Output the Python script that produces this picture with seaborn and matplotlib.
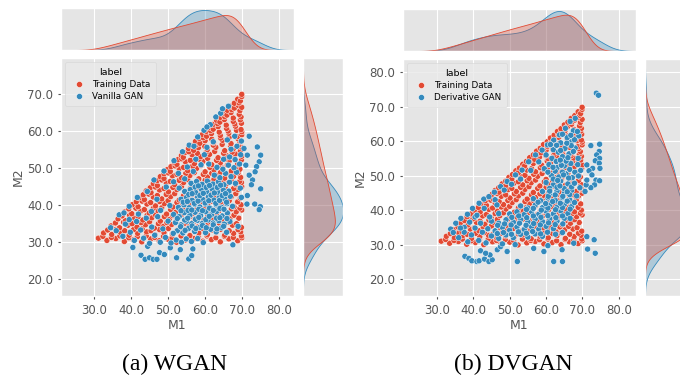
import matplotlib
matplotlib.use("Agg")
import matplotlib.pyplot as plt
import seaborn as sns
import pandas as pd
from matplotlib.ticker import FormatStrFormatter, MultipleLocator

plt.style.use("ggplot")
plt.rcParams["font.family"] = ["DejaVu Sans"]

# ---------------- data (M1, M2) ----------------
training_data = [
    (31.2,31.0),(33.5,30.4),(35.9,30.9),(38.2,30.1),(40.6,30.6),(42.9,30.0),(45.3,30.8),(47.6,30.3),(50.0,30.7),
    (52.3,29.9),(54.7,30.5),(57.0,30.9),(59.4,30.2),(61.7,30.6),(64.1,30.0),(66.4,30.8),(68.8,30.3),(69.9,31.1),
    (32.4,31.5),(34.7,31.2),(37.0,31.6),(39.4,31.1),(41.7,31.4),(44.1,31.6),(46.4,31.2),(48.8,31.5),(51.1,31.1),
    (53.5,31.6),(55.8,31.2),(58.2,31.4),(60.5,31.6),(62.9,31.1),(65.2,31.5),(67.6,31.2),(69.8,31.6),
    (32.6,32.4),(34.8,32.0),(37.1,32.6),(39.5,31.8),(41.8,32.3),(44.2,32.7),(46.5,31.9),(48.9,32.5),(51.2,32.1),
    (53.6,32.8),(55.9,31.7),(58.3,32.4),(60.6,32.0),(63.0,32.6),(65.3,31.8),(67.7,32.3),(69.6,32.7),
    (33.7,33.2),(36.0,33.4),(38.3,33.0),(40.7,33.3),(43.0,33.5),(45.4,33.0),(47.7,33.3),(50.1,33.6),(52.4,33.1),
    (54.8,33.4),(57.1,33.0),(59.5,33.5),(61.8,33.2),(64.2,33.4),(66.5,33.0),(68.9,33.3),
    (34.6,34.3),(36.9,33.8),(39.2,34.5),(41.6,34.0),(43.9,34.6),(46.3,33.7),(48.6,34.2),(51.0,34.7),(53.3,33.9),
    (55.7,34.4),(58.0,34.0),(60.4,34.6),(62.7,33.8),(65.1,34.3),(67.4,34.5),(69.8,33.9),
    (35.8,35.1),(38.0,35.3),(40.3,34.9),(42.7,35.2),(45.0,35.4),(47.4,34.9),(49.7,35.2),(52.1,35.5),(54.4,35.0),
    (56.8,35.3),(59.1,34.9),(61.5,35.4),(63.8,35.1),(66.2,35.3),(68.5,34.9),
    (36.5,36.2),(38.5,35.7),(40.9,36.4),(43.2,35.9),(45.6,36.5),(47.9,35.6),(50.3,36.1),(52.6,36.6),(55.0,35.8),
    (57.3,36.3),(59.7,35.9),(62.0,36.5),(64.4,35.7),(66.7,36.2),(69.1,36.4),
    (37.6,37.0),(39.6,37.2),(41.9,36.8),(44.3,37.1),(46.6,37.3),(49.0,36.8),(51.3,37.1),(53.7,37.4),(56.0,36.9),
    (58.4,37.2),(60.7,36.8),(63.1,37.3),(65.4,37.0),(67.8,37.2),
    (38.3,38.1),(40.2,37.6),(42.6,38.3),(44.9,37.8),(47.3,38.4),(49.6,37.5),(52.0,38.0),(54.3,38.5),(56.7,37.7),
    (59.0,38.2),(61.4,37.8),(63.7,38.4),(66.1,37.6),(68.4,38.1),(69.9,38.6),
    (39.4,38.9),(41.3,39.1),(43.6,38.7),(46.0,39.0),(48.3,39.2),(50.7,38.7),(53.0,39.0),(55.4,39.3),(57.7,38.8),
    (60.1,39.1),(62.4,38.7),(64.8,39.2),(67.1,38.9),(69.4,39.1),
    (40.3,40.0),(41.9,39.5),(44.3,40.2),(46.6,39.7),(49.0,40.3),(51.3,39.4),(53.7,39.9),(56.0,40.4),(58.4,39.6),
    (60.7,40.1),(63.1,39.7),(65.4,40.3),(67.8,39.5),(69.7,40.0),
    (41.4,40.8),(43.0,41.0),(45.3,40.6),(47.7,40.9),(50.0,41.1),(52.4,40.6),(54.7,40.9),(57.1,41.2),(59.4,40.7),
    (61.8,41.0),(64.1,40.6),(66.5,41.1),(68.8,40.8),
    (42.2,41.9),(43.6,41.4),(46.0,42.1),(48.3,41.6),(50.7,42.2),(53.0,41.3),(55.4,41.8),(57.7,42.3),(60.1,41.5),
    (62.4,42.0),(64.8,41.6),(67.1,42.2),(69.5,41.8),
    (43.3,42.7),(44.8,42.9),(47.1,42.5),(49.5,42.8),(51.8,43.0),(54.2,42.5),(56.5,42.8),(58.9,43.1),(61.2,42.6),
    (63.6,42.9),(65.9,42.5),(68.3,43.0),
    (44.1,43.8),(45.4,43.3),(47.7,44.0),(50.1,43.5),(52.4,44.1),(54.8,43.2),(57.1,43.7),(59.5,44.2),(61.8,43.4),
    (64.2,43.9),(66.5,43.5),(68.9,44.1),
    (45.2,44.6),(46.6,44.8),(48.9,44.4),(51.3,44.7),(53.6,44.9),(56.0,44.4),(58.3,44.7),(60.7,45.0),(63.0,44.5),
    (65.4,44.8),(67.7,44.4),(69.9,44.9),
    (46.0,45.7),(47.1,45.2),(49.5,45.9),(51.8,45.4),(54.2,46.0),(56.5,45.1),(58.9,45.6),(61.2,46.1),(63.6,45.3),
    (65.9,45.8),(68.3,45.4),(69.8,46.0),
    (47.0,46.5),(48.3,46.7),(50.6,46.3),(53.0,46.6),(55.3,46.8),(57.7,46.3),(60.0,46.6),(62.4,46.9),(64.7,46.4),
    (67.1,46.7),(69.3,46.3),
    (47.9,47.6),(48.9,47.1),(51.2,47.8),(53.6,47.3),(55.9,47.9),(58.3,47.0),(60.6,47.5),(63.0,48.0),(65.3,47.2),
    (67.7,47.7),(69.6,47.4),
    (48.9,48.4),(50.1,48.6),(52.4,48.2),(54.8,48.5),(57.1,48.7),(59.5,48.2),(61.8,48.5),(64.2,48.8),(66.5,48.3),(68.9,48.6),
    (49.8,49.5),(50.6,49.0),(53.0,49.7),(55.3,49.2),(57.7,49.8),(60.0,48.9),(62.4,49.4),(64.7,49.9),(67.1,49.1),(69.4,49.6),
    (50.8,50.3),(51.9,50.5),(54.2,50.1),(56.6,50.4),(58.9,50.6),(61.3,50.1),(63.6,50.4),(66.0,50.7),(68.3,50.2),
    (51.7,51.4),(52.4,50.9),(54.7,51.6),(57.1,51.1),(59.4,51.7),(61.8,50.8),(64.1,51.3),(66.5,51.8),(68.8,51.0),
    (52.7,52.2),(53.7,52.4),(56.0,52.0),(58.4,52.3),(60.7,52.5),(63.1,52.0),(65.4,52.3),(67.8,52.6),(69.8,52.1),
    (53.6,53.3),(54.1,52.8),(56.5,53.5),(58.8,53.0),(61.2,53.6),(63.5,52.7),(65.9,53.2),(68.2,53.7),(69.9,53.1),
    (54.6,54.1),(55.6,54.3),(57.9,53.9),(60.3,54.2),(62.6,54.4),(65.0,53.9),(67.3,54.2),(69.5,54.5),
    (55.5,55.2),(56.9,54.7),(58.2,55.4),(60.6,54.9),(62.9,55.5),(65.3,54.6),(67.6,55.1),(69.7,55.6),
    (56.5,56.0),(57.6,56.2),(59.9,55.8),(62.2,56.1),(64.6,56.3),(66.9,55.8),(69.1,56.1),
    (57.4,57.1),(58.6,56.6),(60.0,57.3),(62.3,56.8),(64.7,57.4),(67.0,56.5),(69.4,57.0),
    (58.4,57.9),(59.5,58.1),(61.8,57.7),(64.2,58.0),(66.5,58.2),(68.9,57.8),
    (59.3,59.0),(60.4,58.5),(61.7,59.2),(64.1,58.7),(66.4,59.3),(68.8,58.4),(69.9,58.9),
    (60.3,59.8),(61.5,60.0),(63.8,59.6),(66.2,59.9),(68.5,60.1),(69.9,59.7),
    (61.2,60.9),(62.2,60.4),(63.5,61.1),(65.8,60.6),(68.2,61.2),(69.7,60.3),
    (62.2,61.7),(63.4,61.9),(65.7,61.5),(68.0,61.8),(69.8,62.0),
    (63.1,62.8),(64.0,62.3),(65.2,63.0),(67.6,62.5),(69.5,62.9),
    (64.1,63.6),(65.3,63.8),(67.6,63.4),(69.7,63.7),
    (65.0,64.7),(65.9,64.2),(67.0,64.9),(69.2,64.4),
    (66.0,65.5),(67.2,65.7),(69.4,65.4),
    (66.9,66.6),(67.9,66.1),(69.0,66.8),(69.9,66.3),
    (67.9,67.4),(69.2,67.5),
    (68.8,68.5),(69.5,68.0),(69.9,69.2),(69.9,69.8),
]

vanilla_gan = [
    # upper edge
    (34.5,33.8),(36.8,37.3),(38.1,37.8),(39.5,39.6),(41.7,42.0),(44.4,43.6),(46.2,46.7),(48.9,49.1),(51.6,51.9),
    (53.9,54.3),(55.7,56.1),(58.0,58.3),(59.7,60.1),(61.4,61.6),(62.9,63.7),(64.2,64.7),(66.3,66.6),(64.7,65.9),
    (57.0,55.8),(60.5,61.0),
    # below the training set
    (40.5,28.5),(42.7,26.4),(43.8,25.3),(45.0,25.7),(46.0,25.3),(47.0,25.3),(47.7,27.1),(49.0,26.6),(50.6,28.4),
    (52.3,25.7),(53.3,27.9),(55.6,25.4),(56.4,26.3),(56.7,28.1),(67.5,29.2),(44.5,28.8),
    # right of the training set
    (71.9,58.5),(74.1,55.6),(75.0,53.4),(74.6,51.6),(73.9,50.3),(73.5,48.9),(72.8,46.7),(72.5,45.4),(75.0,44.3),
    (71.4,42.5),(71.3,40.2),(73.4,40.2),(74.9,39.5),(74.6,38.7),(71.0,50.7),(71.4,53.4),(70.5,55.2),(71.9,48.0),
    # dense cluster
    (52.5,33.0),(54.0,32.4),(55.5,33.6),(57.2,32.8),(58.6,33.9),(60.1,32.5),(61.5,33.4),(63.0,32.7),(64.4,33.8),(65.8,32.6),
    (52.0,35.2),(53.5,34.6),(55.0,35.6),(56.4,34.9),(57.9,35.8),(59.3,35.0),(60.8,35.9),(62.2,35.1),(63.7,35.7),(65.2,34.8),(66.7,35.5),
    (51.5,37.4),(53.0,36.8),(54.4,37.9),(55.9,37.2),(57.3,38.0),(58.8,37.1),(60.2,38.1),(61.7,37.3),(63.1,38.2),(64.6,37.0),(66.0,37.8),
    (52.8,39.3),(54.3,40.0),(55.7,39.2),(57.2,40.1),(58.6,39.4),(60.1,40.2),(61.5,39.0),(63.0,40.0),(64.4,39.3),(65.9,40.3),(67.4,39.6),
    (53.5,41.5),(55.0,42.0),(56.5,41.2),(58.0,42.1),(59.4,41.4),(60.9,42.2),(62.3,41.3),(63.8,42.0),(65.3,41.6),(66.8,42.3),
    (54.5,43.6),(56.0,44.1),(57.5,43.3),(59.0,44.2),(60.4,43.5),(61.9,44.3),(63.4,43.4),(64.9,44.0),(66.4,43.7),
    (56.2,45.8),(57.7,46.3),(59.2,45.5),(60.6,46.4),(62.1,45.6),(63.6,46.2),(65.1,45.4),(66.6,46.1),
    (53.4,34.1),(54.6,33.1),(56.5,34.3),(57.5,33.6),(59.3,34.4),(60.3,33.8),(62.2,34.6),(63.2,33.5),(65.0,34.2),
    (52.5,36.3),(54.5,35.9),(55.3,36.4),(57.4,36.1),(58.3,36.6),(60.2,36.0),(61.1,36.9),(63.1,36.4),(64.0,36.5),(65.9,36.3),
    (53.5,38.4),(55.4,38.5),(56.4,38.6),(58.3,38.8),(59.3,38.4),(61.2,39.1),(62.2,38.5),(64.0,39.0),(65.1,38.8),
    (54.1,40.7),(55.2,40.9),(57.1,40.4),(58.1,41.0),(60.0,40.5),(61.0,41.1),(62.9,40.4),(63.9,41.2),(65.8,40.7),
    (55.6,42.8),(56.5,43.0),(58.6,42.5),(59.5,43.1),(61.6,42.6),(62.5,43.2),(64.6,42.5),(65.5,43.0),
    (57.3,44.8),(58.2,45.1),(60.3,44.7),(61.2,45.2),(63.3,44.7),(64.2,45.3),
    # lower-left spread
    (36.0,33.0),(37.8,31.5),(38.5,34.8),(39.8,32.6),(40.9,30.4),(41.5,35.5),(42.6,33.2),(43.4,31.0),(44.1,36.4),
    (45.0,29.6),(45.6,34.0),(46.4,31.8),(47.2,36.8),(47.9,29.9),(48.6,33.5),(49.3,31.2),(50.0,35.6),(50.8,29.7),
    (51.4,32.3),(52.2,30.5),(53.6,29.9),(54.9,30.8),(56.3,30.1),(58.0,30.9),(59.5,29.8),(48.0,38.5),(50.5,39.8),
    (45.5,38.2),(42.0,37.5),(39.5,36.0),
    # right-middle
    (62.5,48.0),(64.0,47.3),(65.5,48.5),(67.0,47.6),(68.5,48.8),(63.2,50.1),(64.8,49.6),(66.3,50.7),(67.8,50.0),
    (69.3,51.0),(65.0,52.3),(66.6,52.9),(68.1,52.2),(69.6,53.5),(67.0,55.0),(68.6,55.8),(69.8,57.2),(66.0,57.5),
    (68.0,58.5),(69.5,44.5),(68.2,45.8),(69.8,42.0),
    # upper-middle
    (49.5,44.8),(51.5,46.2),(52.8,48.5),(54.5,47.0),(55.2,50.2),(56.8,49.0),(57.5,52.3),(58.9,50.8),(59.8,53.5),
    (61.0,51.0),(60.5,55.5),(62.2,57.0),(53.0,44.5),(47.0,41.5),(68.9,34.2),
]

derivative_gan = [
    # far outliers
    (73.8,73.9),(74.4,73.3),
    (72.3,58.7),(74.7,59.1),(74.6,57.0),(73.9,56.0),(74.7,55.0),(73.5,54.3),(74.6,53.6),(74.8,52.1),(72.8,52.1),
    (71.2,53.1),(71.8,51.4),(72.6,50.2),(73.7,48.7),(74.7,48.5),(73.3,47.3),(72.3,46.5),(71.0,47.3),(70.7,45.4),(71.2,48.7),
    # below
    (37.7,26.6),(38.8,26.0),(39.6,25.3),(41.0,25.1),(41.6,25.3),(43.1,25.8),(44.3,25.1),(45.2,25.6),(44.6,27.0),
    (46.6,28.5),(52.1,25.1),(62.1,25.1),(64.5,25.1),(64.4,28.5),(71.2,32.3),(73.2,31.4),(71.4,28.7),(73.5,27.5),
    (42.0,28.2),(43.4,27.5),(47.5,29.4),(49.3,28.0),(56.6,28.9),(59.4,28.0),(67.6,30.4),
    # upper edge
    (35.2,36.2),(36.6,37.6),(38.4,38.8),(39.8,40.5),(41.6,42.0),(42.9,43.2),(44.3,43.9),(45.8,45.2),(47.5,46.8),
    (49.3,48.3),(51.6,50.2),(53.4,51.6),(55.2,54.0),(57.1,56.0),(58.9,57.4),(60.4,58.9),(62.1,60.3),(63.7,61.8),
    (65.3,63.7),(66.6,65.7),(68.0,66.6),(33.8,34.5),
    (37.5,35.0),(40.5,38.0),(43.0,40.5),(46.0,43.0),(48.5,45.8),(50.5,47.5),(53.0,49.0),(55.8,51.5),(58.0,54.0),
    (60.0,56.0),(62.0,57.5),(64.0,59.5),(65.8,61.0),(67.5,63.0),(64.5,62.0),(61.2,59.0),
    # dense band
    (45.0,32.5),(47.0,31.8),(49.0,32.8),(51.0,32.0),(53.0,33.0),(55.0,32.2),(57.0,33.1),(59.0,32.4),
    (44.0,34.6),(46.0,34.0),(48.0,35.0),(50.0,34.2),(52.0,35.1),(54.0,34.4),(56.0,35.2),(58.0,34.5),(60.0,35.3),(62.0,34.6),
    (45.0,36.8),(47.0,36.2),(49.0,37.2),(51.0,36.5),(53.0,37.3),(55.0,36.6),(57.0,37.4),(59.0,36.7),(61.0,37.5),(63.0,36.8),(65.0,37.6),
    (50.0,38.9),(52.0,39.5),(54.0,38.7),(56.0,39.6),(58.0,38.8),(60.0,39.7),(62.0,38.9),(64.0,39.8),(66.0,39.0),
    (53.0,41.2),(55.0,40.6),(57.0,41.4),(59.0,40.7),(61.0,41.5),(63.0,40.8),(65.0,41.6),(67.0,41.0),
    (56.5,43.3),(58.5,42.7),(60.5,43.5),(62.5,42.8),(64.5,43.6),(66.5,42.9),
    (59.0,45.4),(61.0,44.8),(63.0,45.6),(65.0,44.9),(67.0,45.7),
    (60.0,48.0),(62.0,47.3),(64.0,48.4),(66.0,47.6),(61.5,50.0),(63.5,49.6),(65.5,50.5),(67.2,49.4),(63.0,52.3),
    (65.0,52.8),(66.8,53.5),(64.5,55.5),(66.3,56.3),(68.0,58.0),(67.0,59.8),(69.0,61.5),(68.8,55.0),(69.5,51.5),
    (46.6,33.2),(48.3,33.5),(50.5,33.0),(52.4,33.7),(54.6,33.3),(56.3,33.8),(58.5,33.1),(60.4,33.6),(62.6,33.0),(64.5,33.5),
    (46.7,35.6),(48.6,36.0),(50.4,35.7),(52.7,36.2),(54.5,35.6),(56.6,36.1),(58.4,35.7),(60.7,36.3),(62.5,35.8),(64.6,36.0),
    (50.6,37.9),(52.5,38.3),(54.7,37.8),(56.5,38.3),(58.6,37.9),(60.5,38.4),(62.7,37.8),(64.5,38.3),(66.6,37.6),
    (54.6,40.2),(56.5,40.5),(58.7,40.0),(60.5,40.6),(62.6,40.1),(64.5,40.7),(66.6,40.3),
    (57.8,42.3),(59.9,41.9),(61.8,42.5),(63.9,42.0),(65.8,42.6),(67.8,42.2),
    (60.6,44.0),(62.5,44.4),(64.6,44.0),(66.5,44.5),(68.4,44.1),
    (61.0,46.3),(63.0,46.6),(65.0,46.2),(67.0,46.7),(62.5,51.3),(64.5,51.0),(66.5,51.8),(65.5,54.2),(67.5,57.0),
    # band along the right side
    (59.5,52.0),(60.8,53.2),(61.6,55.0),(62.8,54.1),(63.4,56.8),(64.2,53.0),(65.2,57.9),(66.0,55.2),(66.9,58.7),
    (67.8,60.4),(68.6,62.8),(62.0,49.0),(63.2,48.6),(64.8,50.2),(66.2,49.3),(67.9,51.0),(68.7,53.2),(60.5,51.0),
    (61.9,52.4),(63.9,54.5),(65.7,59.4),(66.8,61.7),(64.0,57.3),(62.9,58.8),(61.0,45.5),(63.8,47.0),(65.8,45.3),
    (67.8,47.8),(68.9,49.9),(69.3,46.5),
    # lower-left
    (34.5,33.5),(36.0,32.0),(37.5,33.6),(38.5,30.8),(39.5,32.8),(40.5,34.8),(41.5,31.2),(42.5,33.6),(43.5,30.5),
    (36.5,34.8),(39.0,36.5),(42.0,36.2),(44.5,38.0),(41.0,38.5),(47.0,39.0),(46.5,41.5),
    (48.0,30.2),(51.5,30.0),(60.5,29.7),
]

x_ticks = [30, 40, 50, 60, 70, 80]
panel_labels = ["Training Data", "Vanilla GAN", "Derivative GAN"]
captions = ["(a) WGAN", "(b) DVGAN"]

RED = "#E24A33"
BLUE = "#348ABD"

W, H = 680, 379
fig = plt.figure(figsize=(W / 100, H / 100), dpi=100)


def px_axes(x0, y0, x1, y1):
    return fig.add_axes([x0 / W, 1 - y1 / H, (x1 - x0) / W, (y1 - y0) / H])


def make_df(gen_pts, gen_name):
    rows = [(x, y, "Training Data") for x, y in training_data]
    rows += [(x, y, gen_name) for x, y in gen_pts]
    return pd.DataFrame(rows, columns=["M1", "M2", "label"])


def panel(df, gen_name, main_box, top_box, right_box, xlim, ylim, right_frac, caption, cap_x):
    pal = {"Training Data": RED, gen_name: BLUE}
    order = ["Training Data", gen_name]
    ax = px_axes(*main_box)
    axt = px_axes(*top_box)
    axr = px_axes(*right_box)

    sns.scatterplot(data=df, x="M1", y="M2", hue="label", hue_order=order, palette=pal,
                    s=19, edgecolor="white", linewidth=0.35, ax=ax)
    ax.set_xlim(*xlim)
    ax.set_ylim(*ylim)
    ax.set_xticks(x_ticks)
    ax.yaxis.set_major_locator(MultipleLocator(10))
    ax.xaxis.set_major_formatter(FormatStrFormatter("%.1f"))
    ax.yaxis.set_major_formatter(FormatStrFormatter("%.1f"))
    ax.tick_params(labelsize=8.5, colors="#555555", length=2.5, pad=3)
    ax.set_xlabel("M1", fontsize=9, color="#555555", labelpad=2)
    ax.set_ylabel("M2", fontsize=9, color="#555555", labelpad=2)
    leg = ax.legend(title="label", loc="upper left", fontsize=6.3, title_fontsize=6.8,
                    markerscale=1.0, borderpad=0.6, labelspacing=0.35, handletextpad=0.5,
                    frameon=True, bbox_to_anchor=(0.0, 1.0), borderaxespad=0.5)
    leg.get_frame().set_facecolor("#E9E9E9")
    leg.get_frame().set_edgecolor("#D5D5D5")

    sns.kdeplot(data=df, x="M1", hue="label", hue_order=order, palette=pal, fill=True,
                common_norm=False, legend=False, ax=axt, linewidth=0.6, alpha=0.3)
    axt.set_xlim(*xlim)
    axt.set_xticks(x_ticks)
    axt.tick_params(labelbottom=False, labelleft=False, left=False, length=0)
    axt.yaxis.grid(False)
    axt.set_xlabel("")
    axt.set_ylabel("")

    sns.kdeplot(data=df, y="M2", hue="label", hue_order=order, palette=pal, fill=True,
                common_norm=False, legend=False, ax=axr, linewidth=0.6, alpha=0.3)
    axr.set_ylim(*ylim)
    axr.yaxis.set_major_locator(MultipleLocator(10))
    axr.tick_params(labelbottom=False, labelleft=False, bottom=False, length=0)
    axr.xaxis.grid(False)
    axr.set_xlabel("")
    axr.set_ylabel("")
    lo, hi = axr.get_xlim()
    axr.set_xlim(0, hi * right_frac)

    fig.text(cap_x / W, 1 - 370 / H, caption, ha="center", va="baseline",
             fontsize=17, family=["Liberation Serif", "DejaVu Serif"])


df_a = make_df(vanilla_gan, panel_labels[1])
df_b = make_df(derivative_gan, panel_labels[2])

panel(df_a, panel_labels[1], (61, 58, 294, 296), (61, 8, 294, 50), (303, 58, 343, 296),
      (21.1, 84.0), (15.4, 79.6), 0.95, captions[0], 175)
panel(df_b, panel_labels[2], (403, 59, 636, 296), (403, 9, 636, 51), (645, 59, 692, 296),
      (20.7, 84.7), (15.1, 83.8), 1.0, captions[1], 513)

fig.savefig("out.png", dpi=100)
